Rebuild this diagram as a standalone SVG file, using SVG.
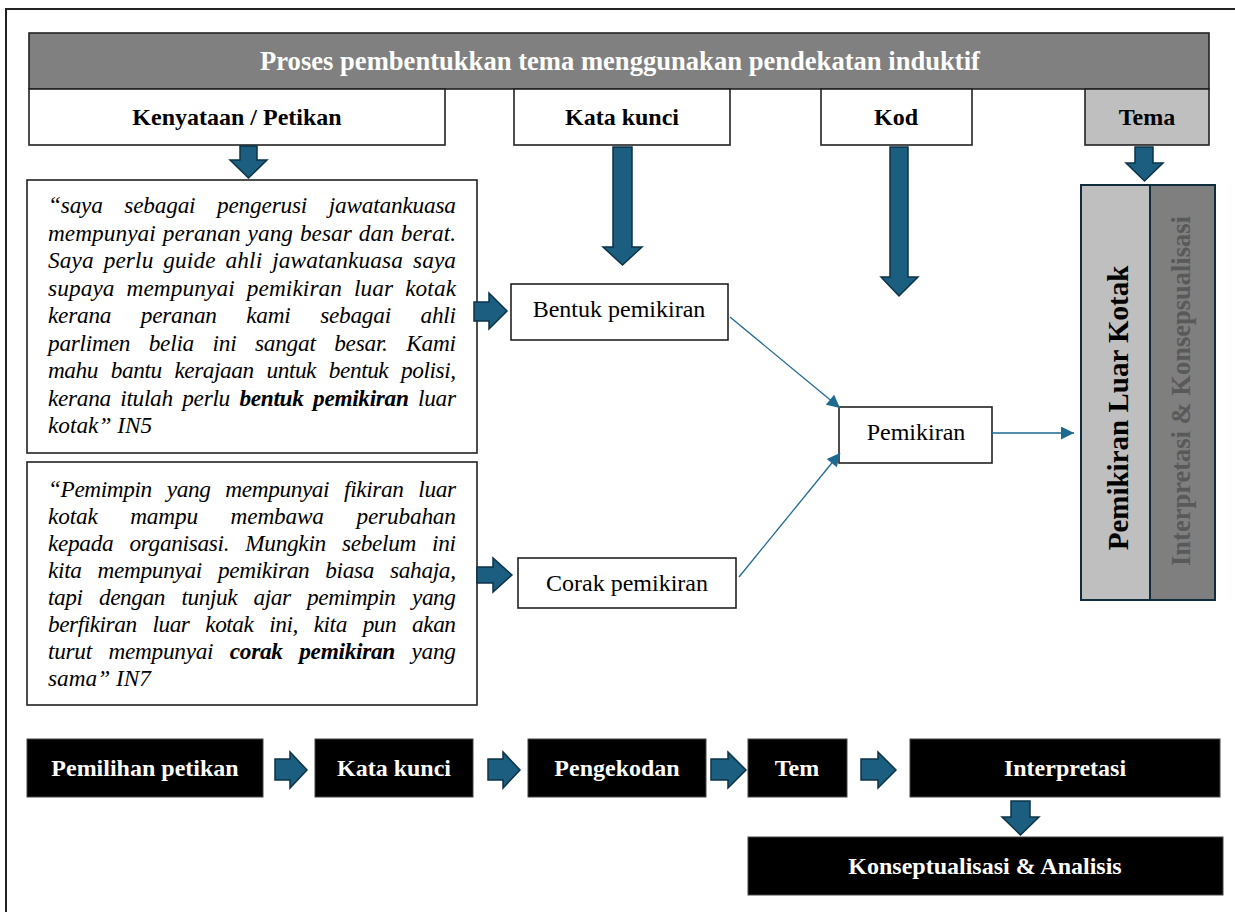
<svg xmlns="http://www.w3.org/2000/svg" width="1235" height="912" viewBox="0 0 1235 912">
<defs>
<style>
.box{fill:#fff;stroke:#222;stroke-width:1.6}
.blk{fill:#000;stroke:#444;stroke-width:1}
.hdr{font-family:"Liberation Serif",serif;font-weight:bold;font-size:24px;fill:#000;text-anchor:middle}
.wl{font-family:"Liberation Serif",serif;font-weight:bold;font-size:24px;fill:#fff;text-anchor:middle}
.reg{font-family:"Liberation Serif",serif;font-size:24px;fill:#000;text-anchor:middle}
.q{font-family:"Liberation Serif",serif;font-style:italic;font-size:23.3px;fill:#000}
.b{font-weight:bold}
.barrow{fill:#1b5e80;stroke:#0c3347;stroke-width:1.5;stroke-linejoin:miter}
.conn{stroke:#1d6990;stroke-width:1.3;fill:none}
</style>
<marker id="ah" viewBox="0 0 10 10" markerUnits="userSpaceOnUse" markerWidth="15" markerHeight="13" refX="10" refY="5" orient="auto">
<path d="M0,0 L10,5 L0,10 z" fill="#1d6990"/>
</marker>
</defs>
<rect width="1235" height="912" fill="#fff"/>
<path d="M6,912 V9 H1235" fill="none" stroke="#222" stroke-width="2"/>

<g id="title">
<rect x="29" y="33" width="1180" height="56" fill="#808080" stroke="#222" stroke-width="1.6"/>
<text x="620" y="70" class="wl" style="font-size:26.6px">Proses pembentukkan tema menggunakan pendekatan induktif</text>
</g>
<g id="h-kenyataan"><rect class="box" x="29" y="89" width="416" height="56"/><text class="hdr" x="237" y="125">Kenyataan / Petikan</text></g>
<g id="h-katakunci"><rect class="box" x="514" y="89" width="216" height="56"/><text class="hdr" x="622" y="125">Kata kunci</text></g>
<g id="h-kod"><rect class="box" x="821" y="89" width="151" height="56"/><text class="hdr" x="896" y="125">Kod</text></g>
<g id="h-tema"><rect x="1085" y="89" width="124" height="56" fill="#bfbfbf" stroke="#222" stroke-width="1.6"/><text class="hdr" x="1147" y="125">Tema</text></g>

<g id="quote1">
<rect class="box" x="27" y="180" width="450" height="273"/>
<text class="q" x="48" y="213" word-spacing="16" textLength="408" lengthAdjust="spacing">“saya sebagai pengerusi jawatankuasa</text>
<text class="q" x="48" y="240.5" word-spacing="1" textLength="408" lengthAdjust="spacing">mempunyai peranan yang besar dan berat.</text>
<text class="q" x="48" y="268" word-spacing="4" textLength="408" lengthAdjust="spacing">Saya perlu guide ahli jawatankuasa saya</text>
<text class="q" x="48" y="295.5" word-spacing="6" textLength="408" lengthAdjust="spacing">supaya mempunyai pemikiran luar kotak</text>
<text class="q" x="48" y="323" word-spacing="24" textLength="408" lengthAdjust="spacing">kerana peranan kami sebagai ahli</text>
<text class="q" x="48" y="350.5" word-spacing="13" textLength="408" lengthAdjust="spacing">parlimen belia ini sangat besar. Kami</text>
<text class="q" x="48" y="378" word-spacing="7.5" textLength="408" lengthAdjust="spacing">mahu bantu kerajaan untuk bentuk polisi,</text>
<text class="q" x="48" y="405.5" word-spacing="4" textLength="408" lengthAdjust="spacing">kerana itulah perlu <tspan class="b">bentuk pemikiran</tspan> luar</text>
<text class="q" x="48" y="433">kotak” IN5</text>
</g>

<g id="quote2">
<rect class="box" x="27" y="462" width="450" height="243"/>
<text class="q" x="48" y="497" word-spacing="9.5" textLength="408" lengthAdjust="spacing">“Pemimpin yang mempunyai fikiran luar</text>
<text class="q" x="48" y="524" word-spacing="27" textLength="408" lengthAdjust="spacing">kotak mampu membawa perubahan</text>
<text class="q" x="48" y="551" word-spacing="10.5" textLength="408" lengthAdjust="spacing">kepada organisasi. Mungkin sebelum ini</text>
<text class="q" x="48" y="578" word-spacing="10.5" textLength="408" lengthAdjust="spacing">kita mempunyai pemikiran biasa sahaja,</text>
<text class="q" x="48" y="605" word-spacing="11" textLength="408" lengthAdjust="spacing">tapi dengan tunjuk ajar pemimpin yang</text>
<text class="q" x="48" y="632" word-spacing="10.5" textLength="408" lengthAdjust="spacing">berfikiran luar kotak ini, kita pun akan</text>
<text class="q" x="48" y="659" word-spacing="11" textLength="408" lengthAdjust="spacing">turut mempunyai <tspan class="b">corak pemikiran</tspan> yang</text>
<text class="q" x="48" y="686">sama” IN7</text>
</g>

<g id="bentuk"><rect class="box" x="511" y="284" width="217" height="56"/><text class="reg" x="619" y="317">Bentuk pemikiran</text></g>
<g id="corak"><rect class="box" x="518" y="558" width="218" height="50"/><text class="reg" x="627" y="591">Corak pemikiran</text></g>
<g id="pemikiran"><rect class="box" x="839" y="407" width="153" height="56"/><text class="reg" x="916" y="440">Pemikiran</text></g>

<g id="tema-col">
<rect x="1081" y="185" width="69" height="415" fill="#bfbfbf" stroke="#0f2d3d" stroke-width="2"/>
<rect x="1150" y="185" width="65" height="415" fill="#7f7f7f" stroke="#0f2d3d" stroke-width="2"/>
<text transform="translate(1128,408) rotate(-90)" font-family="Liberation Serif, serif" font-weight="bold" font-size="29" fill="#000" text-anchor="middle">Pemikiran Luar Kotak</text>
<text transform="translate(1190,391) rotate(-90)" font-family="Liberation Serif, serif" font-weight="bold" font-size="26.5" fill="#595959" text-anchor="middle">Interpretasi &amp; Konsepsualisasi</text>
</g>

<g id="s-pemilihan"><rect class="blk" x="27" y="739" width="236" height="58"/><text class="wl" x="145" y="776">Pemilihan petikan</text></g>
<g id="s-katakunci"><rect class="blk" x="315" y="739" width="158" height="58"/><text class="wl" x="394" y="776">Kata kunci</text></g>
<g id="s-pengekodan"><rect class="blk" x="528" y="739" width="178" height="58"/><text class="wl" x="617" y="776">Pengekodan</text></g>
<g id="s-tem"><rect class="blk" x="748" y="739" width="99" height="58"/><text class="wl" x="797" y="776">Tem</text></g>
<g id="s-interpretasi"><rect class="blk" x="910" y="739" width="310" height="58"/><text class="wl" x="1065" y="776">Interpretasi</text></g>
<g id="s-konsep"><rect class="blk" x="748" y="837" width="475" height="58"/><text class="wl" x="985" y="874">Konseptualisasi &amp; Analisis</text></g>

<g id="connectors">
<path class="barrow" d="M240,146 H257 V160 H267 L248.5,178 L230,160 H240 Z"/>
<path class="barrow" d="M613,147 H632 V247 H642 L622.5,265 L603,247 H613 Z"/>
<path class="barrow" d="M890,147 H908 V277 H918 L899,296 L881,277 H890 Z"/>
<path class="barrow" d="M1135,147 H1153 V163 H1163 L1144.5,181 L1126,163 H1135 Z"/>
<path class="barrow" d="M474,302 H489 V293 L507,311 L489,329 V321 H474 Z"/>
<path class="barrow" d="M477,567 H493 V558 L512,575 L493,592 V583 H477 Z"/>
<path class="barrow" d="M275,759 H290 V752 L307,770 L290,788 V780 H275 Z"/>
<path class="barrow" d="M488,759 H503 V752 L520,770 L503,788 V780 H488 Z"/>
<path class="barrow" d="M711,759 H728 V752 L746,770 L728,788 V780 H711 Z"/>
<path class="barrow" d="M861,759 H878 V752 L896,770 L878,788 V780 H861 Z"/>
<path class="barrow" d="M1011,801 H1030 V817 H1039 L1020.5,835 L1002,817 H1011 Z"/>
<line class="conn" x1="730" y1="317" x2="840" y2="408" marker-end="url(#ah)"/>
<line class="conn" x1="739" y1="577" x2="840" y2="453" marker-end="url(#ah)"/>
<line class="conn" x1="992" y1="433" x2="1074" y2="433" marker-end="url(#ah)"/>
</g>
</svg>
